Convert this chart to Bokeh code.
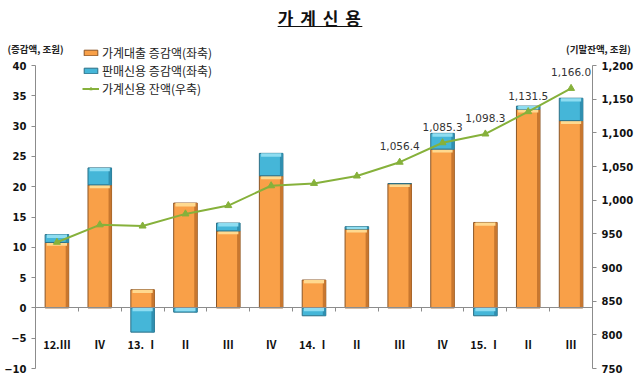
from bokeh.plotting import figure
from bokeh.models import (ColumnDataSource, Range1d, LinearAxis, FixedTicker, Legend,
                          LegendItem, Label, Div, CustomJSTickFormatter)
from bokeh.layouts import column
from bokeh.embed import file_html
from bokeh.resources import INLINE
from bokeh.core.properties import value

# ---------------- data ----------------
categories = ["12.Ⅲ", "Ⅳ", "13. Ⅰ", "Ⅱ", "Ⅲ", "Ⅳ", "14. Ⅰ", "Ⅱ", "Ⅲ", "Ⅳ", "15. Ⅰ", "Ⅱ", "Ⅲ"]
loan_change = [10.8, 20.3, 3.0, 17.3, 12.7, 21.8, 4.6, 13.0, 20.5, 26.2, 14.1, 32.8, 30.9]
sales_credit_change = [1.3, 2.8, -4.0, -0.7, 1.3, 3.7, -1.3, 0.4, 0.0, 2.6, -1.3, 0.5, 3.7]
credit_balance = [937.5, 963.4, 961.6, 979.6, 992.0, 1021.4, 1024.9, 1035.9,
                  1056.4, 1085.3, 1098.3, 1131.5, 1166.0]
labeled_points = 5  # last points carrying a value label
left_ticks = [-10, -5, 0, 5, 10, 15, 20, 25, 30, 35, 40]
right_ticks = [750, 800, 850, 900, 950, 1000, 1050, 1100, 1150, 1200]

title_text = "가 계 신 용"
left_title = "(증감액, 조원)"
right_title = "(기말잔액, 조원)"
legend_labels = ["가계대출 증감액(좌축)", "판매신용 증감액(좌축)", "가계신용 잔액(우축)"]

# ---------------- layout constants (pixels) ----------------
FIG_W, FIG_H = 640, 352
AX_LEFT_PX, AX_RIGHT_PX = 35, 592      # axis lines inside the canvas
TOP_TICK_PX, BOTTOM_TICK_PX = 33, 336  # y of top / bottom tick inside the canvas

n = len(categories)
L_LO, L_HI = -10, 40
R_LO, R_HI = 750, 1200
ppx = (AX_RIGHT_PX - AX_LEFT_PX) / n
x_start = -0.5 - AX_LEFT_PX / ppx
x_end = n - 0.5 + (FIG_W - AX_RIGHT_PX) / ppx
ppy = (BOTTOM_TICK_PX - TOP_TICK_PX) / (L_HI - L_LO)
y_top = L_HI + TOP_TICK_PX / ppy
y_bot = L_LO - (FIG_H - BOTTOM_TICK_PX) / ppy
to_right = lambda v: R_LO + (v - L_LO) * (R_HI - R_LO) / (L_HI - L_LO)

# ---------------- derived sources ----------------
xs = list(range(n))
BW = 0.55
sales_bottom = [l if s >= 0 else 0 for l, s in zip(loan_change, sales_credit_change)]
sales_top = [l + s if s >= 0 else s for l, s in zip(loan_change, sales_credit_change)]
seg_top_sales = [max(b, t) for b, t in zip(sales_bottom, sales_top)]
seg_len_sales = [abs(t - b) for b, t in zip(sales_bottom, sales_top)]

bars = ColumnDataSource(dict(
    x=xs, loan=loan_change, zero=[0] * n,
    sb=sales_bottom, st=sales_top, stop=seg_top_sales,
    xr=[x + BW / 2 - 0.035 for x in xs],
    loan_hl=[l - 0.55 for l in loan_change],
    sales_hl=[t - min(0.55, d) for t, d in zip(seg_top_sales, seg_len_sales)],
))
line_src = ColumnDataSource(dict(
    x=xs, y=credit_balance,
    lab=["" if i < n - labeled_points else f"{v:,.1f}" for i, v in enumerate(credit_balance)],
))

# ---------------- figure ----------------
p = figure(width=FIG_W, height=FIG_H, output_backend="svg", toolbar_location=None,
           x_range=Range1d(x_start, x_end), y_range=Range1d(y_bot, y_top),
           min_border_left=0, min_border_right=0, min_border_top=0, min_border_bottom=0)
p.extra_y_ranges = {"right": Range1d(to_right(y_bot), to_right(y_top))}
p.outline_line_color = None
p.grid.visible = False
p.background_fill_color = "white"

ORANGE = "#F9A048"
ORANGE_EDGE = "#8A5526"
ORANGE_SHADE = "#C8772F"
ORANGE_HL = "#FFD98F"
BLUE = "#45B6D8"
BLUE_EDGE = "#2B6F86"
BLUE_SHADE = "#2F8FB0"
BLUE_HL = "#8EDDF1"
GREEN = "#86B13B"

# loan bars
loan_r = p.vbar(x="x", bottom="zero", top="loan", width=BW, source=bars,
                fill_color=ORANGE, line_color=ORANGE_EDGE, line_width=1)
p.vbar(x="xr", bottom="zero", top="loan", width=0.07, source=bars,
       fill_color=ORANGE_SHADE, line_color=None)
p.vbar(x="x", bottom="loan_hl", top="loan", width=BW - 0.08, source=bars,
       fill_color=ORANGE_HL, line_color=None)

# sales credit bars
sales_r = p.vbar(x="x", bottom="sb", top="st", width=BW, source=bars,
                 fill_color=BLUE, line_color=BLUE_EDGE, line_width=1)
p.vbar(x="xr", bottom="sb", top="st", width=0.07, source=bars,
       fill_color=BLUE_SHADE, line_color=None)
p.vbar(x="x", bottom="sales_hl", top="stop", width=BW - 0.08, source=bars,
       fill_color=BLUE_HL, line_color=None)

# balance line (right axis)
line_r = p.line(x="x", y="y", source=line_src, y_range_name="right",
                line_color=GREEN, line_width=2)
mark_r = p.scatter(x="x", y="y", source=line_src, y_range_name="right",
                   marker="triangle", size=7, fill_color=GREEN, line_color=GREEN)
p.text(x="x", y="y", text="lab", source=line_src, y_range_name="right",
       text_align="center", text_baseline="middle", y_offset=-16,
       text_font=value("DejaVu Sans"), text_font_size="10.5px", text_color="#333333")

# ---------------- axes ----------------
yl = p.yaxis[0]
yl.ticker = FixedTicker(ticks=left_ticks)
yl.bounds = (L_LO, L_HI)
yl.fixed_location = -0.5
yr = LinearAxis(y_range_name="right", ticker=FixedTicker(ticks=right_ticks),
                bounds=(R_LO, R_HI), fixed_location=n - 0.5)
yr.formatter = CustomJSTickFormatter(code="return tick.toLocaleString('en-US');")
p.add_layout(yr, "right")
for ax in (yl, yr):
    ax.axis_line_color = "#8c8c8c"
    ax.major_tick_line_color = "#8c8c8c"
    ax.major_tick_out = 4
    ax.major_tick_in = 0
    ax.minor_tick_line_color = None
    ax.major_label_text_font = "DejaVu Sans"
    ax.major_label_text_font_style = "bold"
    ax.major_label_text_font_size = "10px"
    ax.major_label_text_color = "#111111"
    ax.major_label_standoff = 5

xa = p.xaxis[0]
xa.fixed_location = 0
xa.bounds = (-0.5, n - 0.5)
xa.ticker = FixedTicker(ticks=xs, minor_ticks=[i - 0.5 for i in range(n + 1)])
xa.major_label_overrides = {i: c for i, c in enumerate(categories)}
xa.axis_line_color = "#8c8c8c"
xa.major_tick_out = 0
xa.major_tick_in = 0
xa.minor_tick_line_color = "#8c8c8c"
xa.minor_tick_out = 4
xa.minor_tick_in = 0
xa.major_label_standoff = 24
xa.major_label_text_font = "Noto Sans CJK KR"
xa.major_label_text_font_style = "bold"
xa.major_label_text_font_size = "11px"
xa.major_label_text_color = "#111111"

# axis titles
p.add_layout(Label(x=-0.5, y=42.8, x_offset=0, text=left_title, text_align="center",
                   text_baseline="middle", text_font="Noto Sans CJK KR",
                   text_font_style="bold", text_font_size="9.5px", text_color="#222222"))
p.add_layout(Label(x=n - 0.5, y=42.8, x_offset=6, text=right_title, text_align="center",
                   text_baseline="middle", text_font="Noto Sans CJK KR",
                   text_font_style="bold", text_font_size="9.5px", text_color="#222222"))

# legend
legend = Legend(items=[LegendItem(label=legend_labels[0], renderers=[loan_r]),
                       LegendItem(label=legend_labels[1], renderers=[sales_r]),
                       LegendItem(label=legend_labels[2], renderers=[line_r, mark_r])],
                location=(82, 287), orientation="vertical",
                padding=0, margin=0, spacing=0, border_line_color=None,
                background_fill_alpha=0, glyph_width=17, glyph_height=7,
                label_height=18, label_standoff=3,
                label_text_font="Noto Sans CJK KR", label_text_font_size="12px",
                label_text_color="#222222")
p.add_layout(legend)

title = Div(text=f'<div style="width:{FIG_W}px;text-align:center;font-family:\'Noto Sans CJK KR\';'
                 f'font-weight:bold;font-size:17px;line-height:20px;text-decoration:underline;'
                 f'letter-spacing:1.5px;color:#111;">{title_text}</div>',
            width=FIG_W, height=24, margin=(8, 0, 0, 0))

layout = column(title, p, spacing=0)
open("out.html", "w").write(file_html(layout, INLINE))
